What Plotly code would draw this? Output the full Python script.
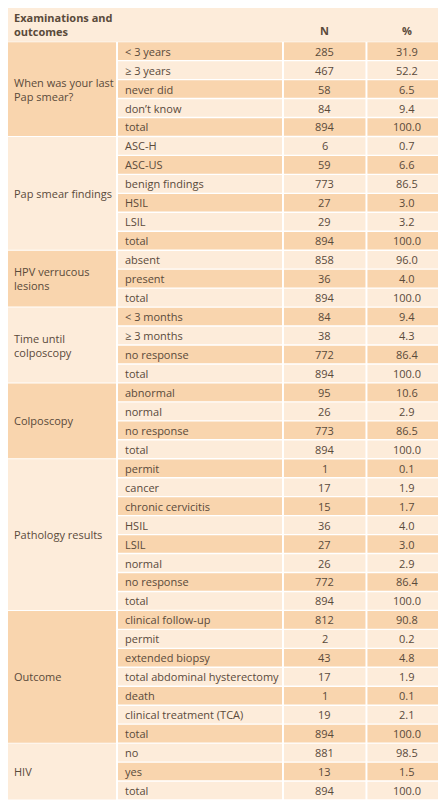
import plotly.graph_objects as go

groups = ["When was your last<br>Pap smear?", "Pap smear findings", "HPV verrucous<br>lesions",
          "Time until<br>colposcopy", "Colposcopy", "Pathology results", "Outcome", "HIV"]
categories = [
    ["< 3 years", "≥ 3 years", "never did", "don’t know", "total"],
    ["ASC-H", "ASC-US", "benign findings", "HSIL", "LSIL", "total"],
    ["absent", "present", "total"],
    ["< 3 months", "≥ 3 months", "no response", "total"],
    ["abnormal", "normal", "no response", "total"],
    ["permit", "cancer", "chronic cervicitis", "HSIL", "LSIL", "normal", "no response", "total"],
    ["clinical follow-up", "permit", "extended biopsy", "total abdominal hysterectomy", "death",
     "clinical treatment (TCA)", "total"],
    ["no", "yes", "total"],
]
n_values = [
    [285, 467, 58, 84, 894],
    [6, 59, 773, 27, 29, 894],
    [858, 36, 894],
    [84, 38, 772, 894],
    [95, 26, 773, 894],
    [1, 17, 15, 36, 27, 26, 772, 894],
    [812, 2, 43, 17, 1, 19, 894],
    [881, 13, 894],
]
pct_values = [
    ["31.9", "52.2", "6.5", "9.4", "100.0"],
    ["0.7", "6.6", "86.5", "3.0", "3.2", "100.0"],
    ["96.0", "4.0", "100.0"],
    ["9.4", "4.3", "86.4", "100.0"],
    ["10.6", "2.9", "86.5", "100.0"],
    ["0.1", "1.9", "1.7", "4.0", "3.0", "2.9", "86.4", "100.0"],
    ["90.8", "0.2", "4.8", "1.9", "0.1", "2.1", "100.0"],
    ["98.5", "1.5", "100.0"],
]
headers = ["Examinations and<br>outcomes", "N", "%"]

DARK = "#F9D5AE"
LIGHT = "#FDECDA"
TXT = "#5a4a3a"
FONT = "Open Sans"
FS = 11

H0 = 34
nrows = sum(len(c) for c in categories)
RH = (800 - H0) / nrows
cols = [(0, 110), (112, 279), (281, 364), (366, 446)]

fig = go.Figure()
shapes, ann = [], []
shapes.append(dict(type="rect", x0=0, x1=446, y0=0, y1=H0, fillcolor=LIGHT, line_width=0, layer="below"))
ann.append(dict(x=4, y=H0 / 2, text="<b>" + headers[0] + "</b>", xanchor="left", showarrow=False, align="left",
                font=dict(size=FS, color=TXT, family=FONT)))
for (a, b), t in zip(cols[2:], headers[1:]):
    ann.append(dict(x=(a + b) / 2, y=H0 / 2 + 6, text="<b>" + t + "</b>", showarrow=False,
                    font=dict(size=FS, color=TXT, family=FONT)))

r = 0
for gi, (g, cats) in enumerate(zip(groups, categories)):
    y0 = H0 + r * RH
    y1 = H0 + (r + len(cats)) * RH
    shapes.append(dict(type="rect", x0=cols[0][0], x1=cols[0][1], y0=y0 + 0.5, y1=y1 - 0.5,
                       fillcolor=DARK if gi % 2 == 0 else LIGHT, line_width=0, layer="below"))
    ann.append(dict(x=4, y=(y0 + y1) / 2, text=g, xanchor="left", showarrow=False, align="left",
                    font=dict(size=FS, color=TXT, family=FONT)))
    for k, cat in enumerate(cats):
        ry0 = H0 + r * RH
        ry1 = ry0 + RH
        fc = DARK if r % 2 == 0 else LIGHT
        for (a, b) in cols[1:]:
            shapes.append(dict(type="rect", x0=a, x1=b, y0=ry0 + 0.7, y1=ry1 - 0.7, fillcolor=fc,
                               line_width=0, layer="below"))
        yc = (ry0 + ry1) / 2
        ann.append(dict(x=cols[1][0] + 5, y=yc, text=cat, xanchor="left", showarrow=False,
                        font=dict(size=FS, color=TXT, family=FONT)))
        ann.append(dict(x=(cols[2][0] + cols[2][1]) / 2, y=yc, text=str(n_values[gi][k]), showarrow=False,
                        font=dict(size=FS, color=TXT, family=FONT)))
        ann.append(dict(x=(cols[3][0] + cols[3][1]) / 2, y=yc, text=pct_values[gi][k], showarrow=False,
                        font=dict(size=FS, color=TXT, family=FONT)))
        r += 1

fig.update_layout(width=438, height=792, margin=dict(l=0, r=0, t=0, b=0),
                  paper_bgcolor="white", plot_bgcolor="white", shapes=shapes, annotations=ann,
                  xaxis=dict(range=[0, 446], visible=False, fixedrange=True),
                  yaxis=dict(range=[800, 0], visible=False, fixedrange=True),
                  showlegend=False)
fig.write_html("out.html", config={"displayModeBar": False})
